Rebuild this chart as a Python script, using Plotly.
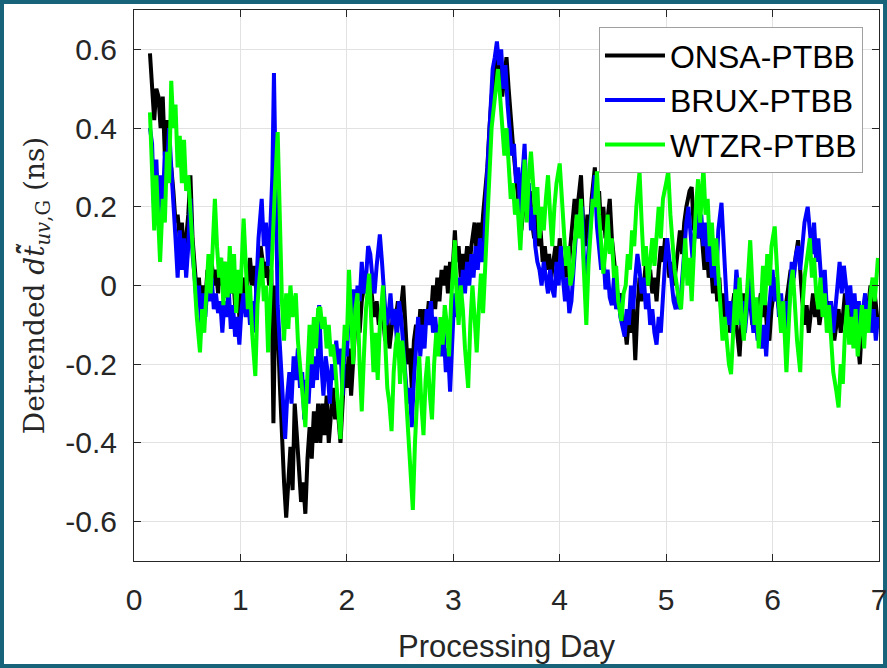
import plotly.graph_objects as go

# ---------------- data ----------------
onsa_ptbb = [
    (0.15, 0.59), (0.17, 0.50), (0.19, 0.42), (0.21, 0.50), (0.23, 0.48), (0.25, 0.40), (0.27, 0.48), (0.29, 0.33), (0.31, 0.42), (0.33, 0.28),
    (0.35, 0.30), (0.37, 0.24), (0.39, 0.16), (0.41, 0.18), (0.43, 0.12), (0.45, 0.16), (0.47, 0.08), (0.49, 0.12), (0.51, 0.18), (0.53, 0.28),
    (0.55, 0.12), (0.57, 0.05), (0.59, -0.02), (0.61, 0.02), (0.63, -0.06), (0.65, 0.00), (0.67, -0.04), (0.69, 0.04), (0.71, -0.02), (0.73, 0.06),
    (0.75, 0.00), (0.77, 0.04), (0.79, -0.02), (0.81, 0.07), (0.83, 0.00), (0.85, 0.06), (0.87, -0.03), (0.89, 0.04), (0.91, -0.02), (0.93, 0.03),
    (0.95, -0.05), (0.97, 0.00), (0.99, -0.08), (1.01, -0.02), (1.03, 0.02), (1.05, -0.04), (1.07, 0.02), (1.09, 0.07), (1.11, 0.00), (1.13, 0.05),
    (1.15, -0.02), (1.17, 0.04), (1.19, 0.10), (1.21, 0.06), (1.23, 0.02), (1.25, 0.06), (1.27, 0.00), (1.29, 0.04), (1.31, -0.35), (1.33, 0.00),
    (1.35, -0.10), (1.37, -0.25), (1.39, -0.40), (1.41, -0.50), (1.43, -0.59), (1.45, -0.48), (1.47, -0.41), (1.49, -0.52), (1.51, -0.30), (1.53, -0.38),
    (1.55, -0.46), (1.57, -0.55), (1.59, -0.50), (1.61, -0.58), (1.63, -0.44), (1.65, -0.36), (1.67, -0.44), (1.69, -0.32), (1.71, -0.40), (1.73, -0.30),
    (1.75, -0.40), (1.77, -0.30), (1.79, -0.38), (1.81, -0.28), (1.83, -0.40), (1.85, -0.34), (1.87, -0.26), (1.89, -0.34), (1.91, -0.30), (1.94, -0.40),
    (1.96, -0.28), (1.98, -0.20), (2.00, -0.26), (2.02, -0.16), (2.04, -0.28), (2.06, -0.20), (2.08, -0.10), (2.10, -0.06), (2.12, -0.12), (2.14, -0.04),
    (2.16, 0.00), (2.18, 0.03), (2.20, -0.02), (2.22, 0.02), (2.24, -0.04), (2.26, -0.08), (2.28, -0.04), (2.30, -0.10), (2.32, -0.06), (2.34, -0.08),
    (2.36, -0.14), (2.38, -0.08), (2.40, -0.16), (2.42, -0.10), (2.44, -0.06), (2.46, -0.08), (2.48, -0.04), (2.50, -0.08), (2.53, 0.00), (2.55, -0.10),
    (2.57, -0.20), (2.59, -0.16), (2.61, -0.26), (2.63, -0.14), (2.65, -0.10), (2.67, -0.14), (2.69, -0.06), (2.71, -0.12), (2.73, -0.06), (2.75, -0.10),
    (2.77, -0.04), (2.79, -0.08), (2.81, 0.00), (2.83, -0.06), (2.85, 0.02), (2.87, -0.04), (2.89, 0.04), (2.91, 0.00), (2.93, 0.05), (2.95, -0.02),
    (2.97, 0.06), (2.99, 0.02), (3.015, 0.14), (3.03, 0.06), (3.05, 0.10), (3.07, 0.02), (3.09, 0.08), (3.11, 0.04), (3.13, 0.10), (3.15, 0.04),
    (3.17, 0.10), (3.20, 0.16), (3.22, 0.08), (3.24, 0.16), (3.26, 0.10), (3.28, 0.18), (3.30, 0.23), (3.32, 0.30), (3.34, 0.40), (3.36, 0.48),
    (3.38, 0.52), (3.40, 0.58), (3.42, 0.52), (3.44, 0.56), (3.46, 0.48), (3.48, 0.54), (3.50, 0.58), (3.52, 0.50), (3.54, 0.42), (3.56, 0.36),
    (3.58, 0.30), (3.60, 0.24), (3.62, 0.18), (3.64, 0.14), (3.66, 0.20), (3.68, 0.26), (3.70, 0.18), (3.72, 0.24), (3.74, 0.16), (3.76, 0.12),
    (3.78, 0.18), (3.80, 0.10), (3.82, 0.14), (3.84, 0.06), (3.86, 0.10), (3.88, 0.04), (3.90, 0.08), (3.92, 0.02), (3.94, 0.06), (3.96, 0.10),
    (3.98, 0.04), (4.00, 0.12), (4.02, 0.06), (4.04, 0.02), (4.06, 0.08), (4.08, 0.02), (4.10, 0.10), (4.12, 0.16), (4.14, 0.22), (4.16, 0.18),
    (4.18, 0.24), (4.20, 0.28), (4.22, 0.16), (4.24, 0.10), (4.26, 0.18), (4.28, 0.12), (4.30, 0.22), (4.33, 0.30), (4.35, 0.20), (4.37, 0.24),
    (4.39, 0.14), (4.41, 0.20), (4.43, 0.12), (4.45, 0.18), (4.47, 0.22), (4.49, 0.12), (4.51, 0.06), (4.53, 0.00), (4.55, -0.04), (4.57, -0.02),
    (4.59, -0.08), (4.61, -0.10), (4.63, -0.15), (4.65, -0.08), (4.67, -0.12), (4.69, -0.06), (4.71, -0.19), (4.73, -0.06), (4.75, 0.02), (4.77, -0.04),
    (4.79, 0.00), (4.81, 0.06), (4.83, 0.00), (4.85, 0.04), (4.87, -0.02), (4.89, 0.02), (4.91, -0.04), (4.93, 0.04), (4.95, 0.10), (4.97, 0.06),
    (4.99, 0.12), (5.01, 0.08), (5.03, 0.02), (5.05, 0.06), (5.07, 0.00), (5.09, 0.04), (5.11, 0.10), (5.13, 0.14), (5.15, 0.08), (5.17, 0.16),
    (5.19, 0.20), (5.22, 0.24), (5.24, 0.25), (5.26, 0.14), (5.28, 0.20), (5.30, 0.12), (5.32, 0.18), (5.34, 0.10), (5.36, 0.04), (5.38, 0.10),
    (5.40, 0.02), (5.42, 0.06), (5.44, -0.02), (5.46, 0.04), (5.48, -0.04), (5.50, 0.02), (5.52, -0.08), (5.54, -0.02), (5.56, -0.10), (5.58, -0.04),
    (5.60, -0.12), (5.62, -0.06), (5.64, -0.02), (5.66, -0.10), (5.69, -0.18), (5.71, -0.08), (5.73, -0.02), (5.75, -0.06), (5.77, 0.00), (5.79, -0.04),
    (5.81, -0.10), (5.83, -0.06), (5.85, -0.12), (5.87, -0.06), (5.89, -0.02), (5.91, -0.08), (5.93, -0.04), (5.95, -0.12), (5.97, -0.14), (5.99, -0.06),
    (6.01, -0.02), (6.03, 0.02), (6.05, -0.04), (6.07, -0.08), (6.09, -0.04), (6.11, -0.10), (6.13, -0.04), (6.15, 0.00), (6.17, 0.04), (6.19, 0.00),
    (6.21, 0.06), (6.24, 0.115), (6.26, 0.02), (6.28, -0.04), (6.30, -0.10), (6.32, -0.05), (6.34, -0.12), (6.36, -0.06), (6.38, -0.02), (6.40, -0.08),
    (6.42, -0.04), (6.44, -0.10), (6.46, -0.06), (6.48, -0.02), (6.50, -0.08), (6.52, -0.04), (6.54, -0.12), (6.56, -0.08), (6.58, -0.14), (6.60, -0.10),
    (6.62, -0.06), (6.64, -0.12), (6.66, -0.08), (6.68, -0.02), (6.70, -0.06), (6.72, -0.10), (6.74, -0.06), (6.76, -0.12), (6.78, -0.08), (6.80, -0.14),
    (6.82, -0.20), (6.84, -0.10), (6.86, -0.06), (6.88, -0.10), (6.90, -0.04), (6.92, 0.00), (6.94, -0.06), (6.96, -0.02), (6.99, -0.10),
]

brux_ptbb = [
    (0.15, 0.40), (0.17, 0.36), (0.19, 0.18), (0.21, 0.32), (0.23, 0.18), (0.25, 0.28), (0.27, 0.20), (0.29, 0.34), (0.31, 0.30), (0.33, 0.40),
    (0.35, 0.30), (0.37, 0.22), (0.39, 0.12), (0.41, 0.02), (0.43, 0.14), (0.45, 0.04), (0.47, 0.12), (0.49, 0.02), (0.51, 0.10), (0.53, 0.22),
    (0.55, 0.08), (0.57, 0.02), (0.59, -0.05), (0.61, 0.00), (0.63, -0.10), (0.65, -0.02), (0.67, -0.08), (0.69, 0.00), (0.71, -0.04), (0.73, 0.02),
    (0.75, -0.06), (0.77, -0.02), (0.79, -0.07), (0.81, -0.04), (0.83, -0.12), (0.85, -0.04), (0.87, -0.08), (0.89, -0.01), (0.91, -0.11), (0.93, -0.05),
    (0.95, -0.13), (0.97, -0.08), (0.99, -0.15), (1.01, -0.06), (1.03, -0.02), (1.05, -0.08), (1.07, -0.02), (1.09, -0.10), (1.11, -0.04), (1.13, -0.12),
    (1.15, 0.02), (1.17, 0.12), (1.20, 0.22), (1.22, 0.10), (1.24, 0.16), (1.26, 0.05), (1.28, 0.14), (1.30, 0.28), (1.315, 0.54), (1.33, 0.20),
    (1.35, -0.05), (1.37, -0.15), (1.39, -0.25), (1.42, -0.39), (1.44, -0.28), (1.46, -0.22), (1.48, -0.30), (1.50, -0.18), (1.52, -0.24), (1.54, -0.16),
    (1.56, -0.26), (1.58, -0.22), (1.60, -0.34), (1.62, -0.24), (1.64, -0.30), (1.66, -0.20), (1.68, -0.26), (1.70, -0.18), (1.72, -0.24), (1.74, -0.05),
    (1.76, -0.20), (1.78, -0.28), (1.80, -0.18), (1.82, -0.22), (1.84, -0.30), (1.86, -0.20), (1.88, -0.24), (1.90, -0.14), (1.92, -0.20), (1.94, -0.16),
    (1.96, -0.28), (1.98, -0.14), (2.00, -0.18), (2.02, -0.06), (2.04, -0.12), (2.06, -0.01), (2.08, -0.10), (2.10, 0.00), (2.12, -0.04), (2.14, 0.06),
    (2.16, -0.02), (2.18, 0.02), (2.20, 0.10), (2.22, 0.08), (2.24, 0.02), (2.26, -0.02), (2.28, 0.05), (2.31, 0.13), (2.33, 0.06), (2.35, -0.04),
    (2.37, -0.10), (2.39, -0.08), (2.41, -0.02), (2.43, -0.10), (2.45, -0.06), (2.47, -0.14), (2.49, -0.04), (2.51, -0.08), (2.53, -0.16), (2.55, -0.22),
    (2.57, -0.30), (2.59, -0.26), (2.61, -0.36), (2.63, -0.24), (2.65, -0.14), (2.67, -0.08), (2.69, -0.18), (2.71, -0.10), (2.73, -0.16), (2.75, -0.06),
    (2.77, -0.10), (2.79, -0.04), (2.81, -0.12), (2.83, -0.08), (2.85, -0.14), (2.87, -0.10), (2.89, -0.18), (2.91, -0.12), (2.93, -0.22), (2.95, -0.16),
    (2.97, -0.27), (2.99, -0.14), (3.01, -0.02), (3.03, -0.08), (3.05, 0.02), (3.07, -0.04), (3.09, 0.04), (3.11, -0.02), (3.13, 0.06), (3.15, 0.00),
    (3.17, 0.08), (3.19, 0.02), (3.21, 0.10), (3.23, 0.04), (3.25, 0.12), (3.27, 0.06), (3.29, 0.10), (3.31, 0.24), (3.33, 0.36), (3.35, 0.48),
    (3.37, 0.55), (3.39, 0.58), (3.41, 0.62), (3.43, 0.56), (3.45, 0.60), (3.47, 0.50), (3.49, 0.56), (3.51, 0.46), (3.53, 0.40), (3.55, 0.33),
    (3.57, 0.36), (3.59, 0.26), (3.61, 0.30), (3.63, 0.18), (3.65, 0.28), (3.67, 0.36), (3.69, 0.20), (3.71, 0.26), (3.73, 0.14), (3.75, 0.20),
    (3.77, 0.10), (3.79, 0.06), (3.81, 0.04), (3.83, 0.00), (3.85, 0.06), (3.87, 0.02), (3.89, -0.02), (3.91, 0.04), (3.93, -0.01), (3.95, -0.03),
    (3.97, 0.06), (3.99, 0.00), (4.01, 0.10), (4.03, 0.02), (4.05, -0.04), (4.07, 0.02), (4.09, -0.07), (4.11, -0.04), (4.13, 0.06), (4.15, 0.12),
    (4.17, 0.18), (4.19, 0.14), (4.21, 0.20), (4.23, 0.05), (4.25, 0.02), (4.27, 0.10), (4.29, 0.16), (4.31, 0.22), (4.33, 0.28), (4.35, 0.15),
    (4.37, 0.10), (4.39, 0.04), (4.41, 0.08), (4.43, -0.01), (4.45, 0.04), (4.47, -0.03), (4.49, -0.05), (4.51, 0.02), (4.53, -0.06), (4.55, -0.02),
    (4.57, -0.08), (4.59, -0.11), (4.61, -0.13), (4.63, -0.06), (4.65, -0.10), (4.67, 0.00), (4.69, -0.06), (4.71, 0.02), (4.73, 0.08), (4.75, 0.04),
    (4.77, -0.02), (4.79, 0.02), (4.81, -0.06), (4.83, -0.02), (4.85, -0.10), (4.87, -0.06), (4.89, -0.12), (4.91, -0.15), (4.93, -0.08), (4.95, -0.12),
    (4.97, -0.02), (4.99, 0.06), (5.01, 0.12), (5.03, 0.06), (5.05, 0.02), (5.07, -0.04), (5.09, -0.06), (5.11, -0.02), (5.13, -0.06), (5.15, 0.02),
    (5.17, 0.10), (5.19, 0.16), (5.21, 0.20), (5.23, 0.12), (5.25, 0.06), (5.27, 0.14), (5.29, 0.20), (5.31, 0.12), (5.33, 0.18), (5.35, 0.10),
    (5.37, 0.16), (5.39, 0.06), (5.41, 0.12), (5.43, 0.02), (5.45, 0.08), (5.47, 0.00), (5.49, 0.14), (5.52, 0.21), (5.54, 0.10), (5.56, 0.00),
    (5.58, -0.10), (5.60, -0.04), (5.62, -0.12), (5.64, -0.06), (5.66, 0.04), (5.68, -0.02), (5.70, -0.10), (5.72, -0.04), (5.74, -0.12), (5.76, -0.06),
    (5.78, 0.02), (5.80, -0.06), (5.82, -0.12), (5.84, -0.08), (5.86, -0.14), (5.88, -0.10), (5.90, -0.16), (5.92, -0.10), (5.94, -0.18), (5.96, -0.08),
    (5.98, -0.02), (6.00, 0.04), (6.02, -0.04), (6.04, 0.02), (6.06, -0.08), (6.08, -0.02), (6.10, -0.10), (6.12, -0.04), (6.14, -0.12), (6.16, -0.02),
    (6.18, 0.06), (6.20, 0.02), (6.22, 0.08), (6.24, 0.10), (6.26, 0.04), (6.28, 0.10), (6.30, 0.16), (6.33, 0.20), (6.35, 0.14), (6.37, 0.08),
    (6.39, 0.16), (6.41, 0.06), (6.43, 0.12), (6.45, 0.02), (6.47, -0.04), (6.49, 0.04), (6.51, -0.06), (6.53, -0.10), (6.55, -0.04), (6.57, -0.12),
    (6.59, -0.06), (6.61, 0.02), (6.63, 0.06), (6.65, -0.02), (6.67, 0.05), (6.69, 0.00), (6.71, -0.06), (6.73, 0.00), (6.75, -0.08), (6.77, -0.02),
    (6.79, -0.10), (6.81, -0.04), (6.83, -0.12), (6.85, -0.06), (6.87, -0.02), (6.89, -0.10), (6.91, -0.04), (6.93, -0.12), (6.95, -0.06), (6.97, -0.14),
    (6.99, -0.08),
]

wtzr_ptbb = [
    (0.15, 0.44), (0.17, 0.30), (0.19, 0.14), (0.21, 0.28), (0.23, 0.12), (0.245, 0.06), (0.27, 0.22), (0.29, 0.16), (0.31, 0.34), (0.33, 0.26),
    (0.35, 0.52), (0.37, 0.40), (0.39, 0.46), (0.41, 0.30), (0.43, 0.38), (0.45, 0.26), (0.47, 0.37), (0.49, 0.24), (0.51, 0.28), (0.53, 0.18),
    (0.55, 0.10), (0.57, 0.02), (0.59, -0.08), (0.62, -0.17), (0.64, -0.06), (0.66, -0.12), (0.68, 0.00), (0.70, 0.08), (0.72, -0.02), (0.74, 0.12),
    (0.76, 0.22), (0.78, 0.10), (0.80, 0.02), (0.82, 0.07), (0.84, -0.05), (0.86, 0.06), (0.88, -0.03), (0.90, 0.10), (0.92, -0.02), (0.94, 0.08),
    (0.96, -0.07), (0.98, 0.04), (1.00, -0.02), (1.03, 0.17), (1.05, 0.04), (1.07, -0.06), (1.09, 0.00), (1.11, -0.12), (1.14, -0.23), (1.16, -0.05),
    (1.18, 0.02), (1.20, 0.07), (1.22, -0.04), (1.24, 0.00), (1.26, -0.17), (1.28, -0.02), (1.30, 0.10), (1.32, 0.22), (1.35, 0.39), (1.37, 0.15),
    (1.39, -0.04), (1.41, -0.14), (1.43, -0.02), (1.45, -0.11), (1.47, 0.00), (1.49, -0.08), (1.52, -0.02), (1.54, -0.14), (1.56, -0.20), (1.58, -0.26),
    (1.61, -0.36), (1.63, -0.22), (1.65, -0.10), (1.67, -0.20), (1.69, -0.08), (1.71, -0.16), (1.73, -0.06), (1.75, -0.055), (1.77, -0.11), (1.79, -0.08),
    (1.81, -0.16), (1.83, -0.10), (1.85, -0.18), (1.87, -0.15), (1.89, -0.20), (1.91, -0.28), (1.94, -0.39), (1.96, -0.22), (1.98, -0.10), (2.00, -0.14),
    (2.02, 0.04), (2.04, -0.08), (2.06, -0.20), (2.08, -0.06), (2.10, -0.02), (2.12, -0.20), (2.14, -0.32), (2.16, -0.18), (2.18, -0.06), (2.21, 0.03),
    (2.23, -0.08), (2.25, -0.22), (2.27, -0.12), (2.29, -0.24), (2.31, -0.10), (2.34, 0.00), (2.36, -0.14), (2.38, -0.26), (2.40, -0.30), (2.42, -0.37),
    (2.44, -0.22), (2.46, -0.15), (2.48, -0.12), (2.50, -0.25), (2.52, -0.14), (2.54, -0.20), (2.56, -0.30), (2.58, -0.40), (2.60, -0.48), (2.62, -0.57),
    (2.64, -0.40), (2.66, -0.30), (2.68, -0.18), (2.70, -0.30), (2.72, -0.38), (2.74, -0.24), (2.76, -0.18), (2.78, -0.28), (2.80, -0.34), (2.82, -0.20),
    (2.84, -0.12), (2.86, -0.18), (2.88, -0.08), (2.90, -0.15), (2.92, -0.05), (2.94, -0.10), (2.96, -0.18), (2.98, -0.04), (3.015, 0.115), (3.03, -0.02),
    (3.05, -0.10), (3.07, 0.00), (3.09, -0.06), (3.11, -0.16), (3.14, -0.26), (3.16, -0.10), (3.18, 0.00), (3.20, -0.08), (3.22, -0.17), (3.24, -0.06),
    (3.26, 0.03), (3.28, -0.07), (3.30, 0.04), (3.32, 0.18), (3.34, 0.29), (3.36, 0.40), (3.38, 0.45), (3.40, 0.50), (3.42, 0.55), (3.44, 0.48),
    (3.46, 0.40), (3.48, 0.33), (3.50, 0.40), (3.52, 0.30), (3.54, 0.22), (3.56, 0.26), (3.58, 0.18), (3.60, 0.22), (3.63, 0.09), (3.65, 0.20),
    (3.67, 0.32), (3.69, 0.16), (3.71, 0.28), (3.73, 0.34), (3.75, 0.24), (3.77, 0.18), (3.79, 0.25), (3.81, 0.12), (3.83, 0.20), (3.85, 0.14),
    (3.87, 0.22), (3.89, 0.28), (3.91, 0.18), (3.93, 0.10), (3.95, 0.20), (3.97, 0.26), (4.00, 0.31), (4.02, 0.22), (4.04, 0.12), (4.06, 0.05),
    (4.08, 0.10), (4.10, 0.00), (4.12, 0.03), (4.14, 0.10), (4.16, 0.18), (4.18, 0.12), (4.20, 0.22), (4.22, 0.08), (4.25, -0.10), (4.27, 0.05),
    (4.29, 0.15), (4.31, 0.22), (4.33, 0.20), (4.35, 0.29), (4.37, 0.18), (4.39, 0.10), (4.41, 0.03), (4.43, 0.09), (4.45, 0.18), (4.47, 0.08),
    (4.49, 0.12), (4.51, 0.02), (4.53, 0.05), (4.55, -0.04), (4.58, -0.09), (4.60, -0.02), (4.62, 0.00), (4.64, 0.08), (4.66, 0.04), (4.68, 0.14),
    (4.70, 0.10), (4.72, 0.20), (4.75, 0.29), (4.77, 0.16), (4.79, 0.05), (4.81, 0.10), (4.83, 0.00), (4.85, 0.06), (4.87, 0.12), (4.89, 0.05),
    (4.91, 0.14), (4.93, 0.20), (4.95, 0.12), (4.97, 0.22), (5.00, 0.26), (5.02, 0.29), (5.04, 0.18), (5.06, 0.10), (5.08, 0.04), (5.10, 0.00),
    (5.12, -0.04), (5.14, -0.06), (5.16, 0.04), (5.18, 0.12), (5.20, 0.00), (5.22, 0.07), (5.24, -0.04), (5.26, 0.10), (5.28, 0.20), (5.30, 0.27),
    (5.32, 0.16), (5.35, 0.30), (5.37, 0.18), (5.39, 0.22), (5.41, 0.10), (5.43, 0.16), (5.45, 0.05), (5.47, 0.12), (5.49, 0.02), (5.51, -0.05),
    (5.53, -0.14), (5.55, -0.08), (5.57, -0.15), (5.59, -0.20), (5.61, -0.225), (5.63, -0.10), (5.65, -0.01), (5.67, -0.10), (5.69, 0.02), (5.71, -0.08),
    (5.73, -0.14), (5.75, -0.06), (5.77, 0.05), (5.79, 0.115), (5.81, 0.00), (5.83, -0.10), (5.85, -0.03), (5.87, -0.16), (5.89, -0.06), (5.91, 0.05),
    (5.93, -0.05), (5.95, 0.08), (5.97, 0.00), (5.99, 0.10), (6.02, 0.15), (6.04, 0.02), (6.06, -0.05), (6.08, -0.12), (6.10, -0.04), (6.13, -0.22),
    (6.15, -0.08), (6.17, 0.00), (6.19, 0.04), (6.21, -0.04), (6.23, -0.14), (6.26, -0.22), (6.28, -0.06), (6.30, 0.02), (6.32, 0.06), (6.35, 0.12),
    (6.37, 0.02), (6.39, 0.07), (6.41, -0.02), (6.43, -0.06), (6.45, 0.02), (6.47, -0.08), (6.49, -0.02), (6.51, -0.12), (6.53, -0.05), (6.55, -0.16),
    (6.57, -0.22), (6.60, -0.27), (6.62, -0.31), (6.64, -0.20), (6.66, -0.25), (6.68, -0.12), (6.70, -0.05), (6.72, -0.15), (6.74, -0.08), (6.76, -0.16),
    (6.78, -0.06), (6.80, -0.18), (6.82, -0.10), (6.84, -0.05), (6.86, -0.16), (6.88, -0.06), (6.90, -0.12), (6.92, -0.02), (6.94, 0.02), (6.96, -0.04),
    (6.99, 0.07),
]

series_names = ["ONSA-PTBB", "BRUX-PTBB", "WTZR-PTBB"]
series_data = [onsa_ptbb, brux_ptbb, wtzr_ptbb]
series_colors = ["#000000", "#0000ff", "#00ff00"]

x_tick_vals = [0, 1, 2, 3, 4, 5, 6, 7]
x_tick_text = ["0", "1", "2", "3", "4", "5", "6", "7"]
y_tick_vals = [-0.6, -0.4, -0.2, 0, 0.2, 0.4, 0.6]
y_tick_text = ["-0.6", "-0.4", "-0.2", "0", "0.2", "0.4", "0.6"]

# ---------------- figure ----------------
fig = go.Figure()
for name, pts, col in zip(series_names, series_data, series_colors):
    fig.add_trace(go.Scatter(
        x=[p[0] for p in pts], y=[p[1] for p in pts],
        mode="lines", name=name,
        line=dict(color=col, width=4),
    ))

axis_col = "#262626"
grid_col = "#e2e2e2"
sans = "Liberation Sans, Arial, Helvetica, sans-serif"

fig.update_layout(
    width=887, height=668,
    margin=dict(l=134, r=8, t=10, b=107, autoexpand=False),
    paper_bgcolor="#16637a",
    plot_bgcolor="#ffffff",
    font=dict(family=sans, color=axis_col),
    hovermode=False,
    legend=dict(
        x=0.9785, y=0.969, xanchor="right", yanchor="top",
        bgcolor="#ffffff", bordercolor="#a0a0a0", borderwidth=1,
        font=dict(family=sans, size=32, color="#000000"),
        tracegroupgap=0, itemwidth=60,
    ),
    shapes=[dict(
        type="rect", xref="paper", yref="paper",
        x0=-0.1745, x1=1.0054, y0=-0.187, y1=1.0109,
        fillcolor="#ffffff", line=dict(width=0), layer="below",
    )],
    xaxis=dict(
        range=[0, 7], tickmode="array", tickvals=x_tick_vals, ticktext=x_tick_text,
        showline=True, linecolor=axis_col, linewidth=1, mirror="ticks",
        ticks="inside", ticklen=7, tickcolor=axis_col, tickwidth=1,
        showgrid=True, gridcolor=grid_col, gridwidth=1, zeroline=False,
        tickfont=dict(family=sans, size=30, color=axis_col),
        ticklabelstandoff=12, ticklabeloverflow="allow", automargin=False,
        title=dict(text="Processing Day", font=dict(family=sans, size=31, color=axis_col), standoff=20),
    ),
    yaxis=dict(
        range=[-0.7, 0.7], tickmode="array", tickvals=y_tick_vals, ticktext=y_tick_text,
        showline=True, linecolor=axis_col, linewidth=1, mirror="ticks",
        ticks="inside", ticklen=7, tickcolor=axis_col, tickwidth=1,
        showgrid=True, gridcolor=grid_col, gridwidth=1, zeroline=False,
        tickfont=dict(family=sans, size=30, color=axis_col),
        ticklabelstandoff=10, ticklabeloverflow="allow", automargin=False,
        title=dict(
            text="Detrended <i>dt\u0303\u0302</i><sub><i>uv</i>,G</sub> (ns)",
            font=dict(family="DejaVu Serif, Liberation Serif, serif", size=28, color=axis_col),
            standoff=12,
        ),
    ),
)

fig.write_html("out.html")
